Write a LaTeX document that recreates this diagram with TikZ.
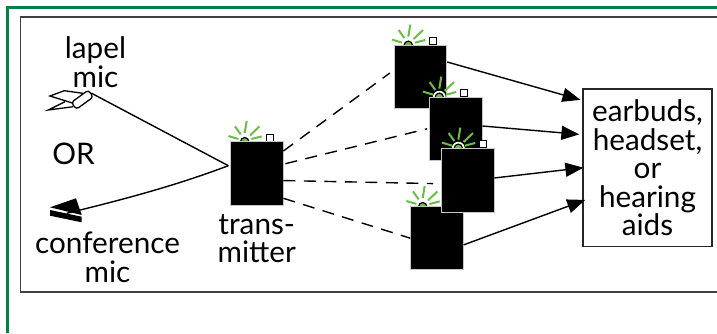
\documentclass[tikz,border=0pt]{standalone}
\usepackage{fontspec}
\setmainfont{Lato}
\usetikzlibrary{arrows.meta}
\definecolor{framegreen}{RGB}{0,130,70}
\definecolor{ledgreen}{RGB}{105,190,70}
\tikzset{
  lbl/.style={align=center,inner sep=0pt,font=\fontsize{29.7}{28.5}\selectfont},
  blackbox/.style={draw=black!22,line width=0.8pt,fill=black,minimum width=52.6pt,minimum height=63.3pt,inner sep=0pt},
  earbox/.style={lbl,draw=black!85,line width=1.2pt,fill=white,minimum width=129pt,minimum height=157.7pt},
  solidarr/.style={line width=1.4pt,-{Triangle[length=18pt,width=14pt]}},
  radiolink/.style={line width=1.4pt,dash pattern=on 12pt off 8.5pt},
  ray/.style={draw=ledgreen,line width=2pt}
}
% led and little square above a box, #1 x of the dome, #2 y of the box top
\newcommand{\ledtop}[2]{
  \path[fill=white] (#1,#2) circle (6.5pt);
  \draw[ray] (#1-16.3,#2-5.7)--(#1-6.3,#2-2.7) (#1-9.7,#2-15.3)--(#1-4,#2-7.3) (#1+2,#2-20.7)--(#1,#2-8.7)
    (#1+14.7,#2-15.3)--(#1+5.3,#2-6.3) (#1+17,#2-5.3)--(#1+6.7,#2-2.7);
  \draw[fill=ledgreen,line width=1.2pt] (#1,#2) circle (4.2pt);
  \draw[fill=white,line width=1.2pt] (#1+21.5,#2-7.5) rectangle (#1+28.5,#2-0.5);
}
\begin{document}
\begin{tikzpicture}[x=1pt,y=-1pt]
  \useasboundingbox (0,0) rectangle (717,333);
  \draw[framegreen,line width=2.4pt] (7.5,333)--(7.5,7.5)--(717,7.5);
  \draw[black!75,line width=1.1pt] (717,17)--(20.5,17)--(20.5,292)--(717,292);

  \node[lbl] (lapeltxt) at (95.5,62) {lapel\\mic};
  \node[lbl] (ortxt) at (73.5,154) {OR};
  \node[lbl] (conftxt) at (107.5,257.5) {conference\\mic};

  % lapel mic
  \draw[line width=1.3pt] (83,93.3)--(64.3,90.7)--(50,96)--(73.3,103.3);
  \draw[line width=1.3pt] (73.3,106.7)--(48.3,110)--(65,101.7);
  \node[draw,fill=white,line width=1.3pt,rounded corners=3pt,minimum width=21pt,minimum height=8.5pt,inner sep=0pt,rotate=36] (lapelmic) at (82.3,99.7) {};
  % conference mic
  \node[inner sep=0pt,minimum size=1pt] (confmic) at (66,214) {};
  \path[fill=black] (50,207.3)--(76,198.3)--(81.7,215)--cycle;
  \path[fill=black] (50,210)--(81.7,216.7)--(81.7,222.3)--(50,215.7)--cycle;

  % transmitter and receivers
  \ledtop{244.7}{141.7}
  \node[blackbox] (tx) at (256.7,173.4) {};
  \node[lbl] (txtxt) at (256.7,238.5) {trans-\\mitter};
  \ledtop{408.3}{45.3}
  \node[blackbox] (rxa) at (420.5,76.8) {};
  \ledtop{439.3}{97.3}
  \node[blackbox] (rxb) at (455.8,128.8) {};
  \ledtop{422.7}{206.7}
  \node[blackbox] (rxd) at (437,238.2) {};
  \ledtop{458.3}{148.3}
  \node[blackbox] (rxc) at (467.7,180.3) {};

  \node[earbox] (ear) at (647.5,167.8) {earbuds,\\headset,\\or\\hearing\hspace*{7pt}\\aids};

  \coordinate (junct) at (228.3,165.7);
  \draw[line width=1.4pt] (lapelmic.east)--(junct);
  \draw[line width=1.4pt] (junct) .. controls (180,184) and (130,198) .. (confmic.north east);

  \draw[radiolink] (tx.40)--([xshift=-4pt]rxa.172);
  \draw[radiolink] ([xshift=2pt]tx.20)--([xshift=-2pt]rxb.west);
  \draw[radiolink] (tx.-15)--([xshift=-8pt]rxc.187);
  \draw[radiolink] (tx.-43)--(rxd.west);

  \draw[solidarr,shorten >=2pt] (rxa.29.6)--(ear.134.3);
  \draw[solidarr,shorten >=3pt] (rxb.6.7)--(ear.153);
  \draw[solidarr,shorten >=-1pt] (rxc.5.6)--(ear.west);
  \draw[solidarr,shorten >=-3pt] (rxd.-14.6)--(ear.207.9);
\end{tikzpicture}
\end{document}
